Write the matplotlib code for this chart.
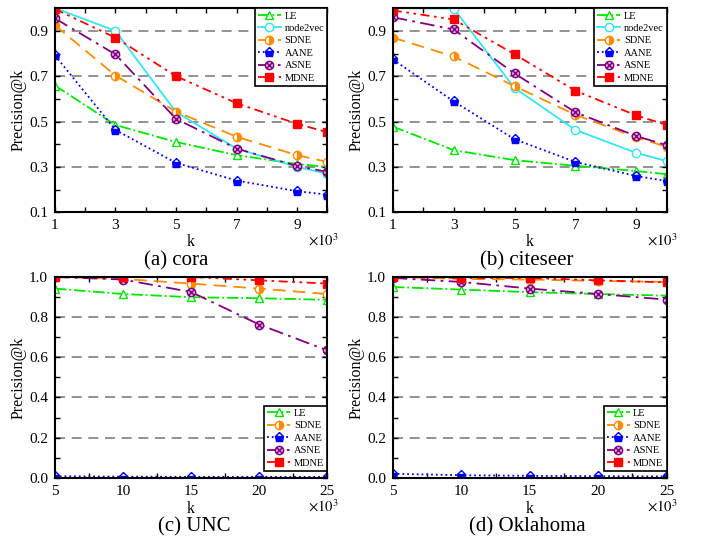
import matplotlib
matplotlib.use("Agg")
import matplotlib.pyplot as plt
from matplotlib.path import Path

plt.rcParams['font.family'] = ['Liberation Serif', 'DejaVu Serif']
plt.rcParams['mathtext.fontset'] = 'stix'

# k values (x 10^3)
k_small = [1, 3, 5, 7, 9, 10]
k_large = [5, 10, 15, 20, 25]

# (a) cora
cora_le = [0.659, 0.485, 0.41, 0.352, 0.313, 0.30]
cora_n2v = [1.0, 0.90, 0.542, 0.381, 0.30, 0.27]
cora_sdne = [0.925, 0.703, 0.544, 0.433, 0.352, 0.322]
cora_aane = [0.792, 0.463, 0.318, 0.24, 0.193, 0.178]
cora_asne = [0.955, 0.796, 0.512, 0.381, 0.304, 0.278]
cora_mdne = [0.996, 0.87, 0.70, 0.581, 0.49, 0.453]

# (b) citeseer
cite_le = [0.478, 0.374, 0.33, 0.305, 0.282, 0.268]
cite_n2v = [1.0, 0.998, 0.648, 0.463, 0.362, 0.326]
cite_sdne = [0.87, 0.787, 0.656, 0.53, 0.43, 0.389]
cite_aane = [0.774, 0.589, 0.422, 0.322, 0.26, 0.238]
cite_asne = [0.96, 0.906, 0.712, 0.541, 0.436, 0.396]
cite_mdne = [0.99, 0.95, 0.797, 0.636, 0.527, 0.485]

# (c) UNC
unc_le = [0.942, 0.915, 0.899, 0.894, 0.886]
unc_sdne = [1.0, 0.99, 0.967, 0.942, 0.915]
unc_aane = [0.008, 0.006, 0.005, 0.005, 0.005]
unc_asne = [1.0, 0.987, 0.925, 0.763, 0.634]
unc_mdne = [1.0, 1.0, 1.0, 0.983, 0.967]

# (d) Oklahoma
okl_le = [0.95, 0.937, 0.924, 0.915, 0.907]
okl_sdne = [1.0, 0.99, 0.987, 0.98, 0.975]
okl_aane = [0.02, 0.013, 0.01, 0.008, 0.007]
okl_asne = [0.995, 0.975, 0.942, 0.915, 0.887]
okl_mdne = [1.0, 0.995, 0.995, 0.983, 0.973]

# circle with a cross inside for ASNE
d = 0.72
otimes = Path.make_compound_path(
    Path.unit_circle(),
    Path([[-d, -d], [d, d]], [Path.MOVETO, Path.LINETO]),
    Path([[-d, d], [d, -d]], [Path.MOVETO, Path.LINETO]),
)

styles = {
    'LE': dict(color='#00e600', ls='-.', marker='^', mfc='white', mec='#00e600', ms=6),
    'node2vec': dict(color='#33e6f0', ls='-', marker='o', mfc='white', mec='#33e6f0', ms=6),
    'SDNE': dict(color='#ff8c00', ls=(0, (7, 4)), marker='o', fillstyle='right',
                 mfc='#ff8c00', mfcalt='white', mec='#ff8c00', ms=6),
    'AANE': dict(color='#0000ff', ls=':', marker='p', fillstyle='bottom',
                 mfc='#0000ff', mfcalt='white', mec='#0000ff', ms=6.5),
    'ASNE': dict(color='#800080', ls=(0, (8, 3, 1.5, 3)), marker=otimes,
                 mfc='#d9a6d9', mec='#800080', ms=6),
    'MDNE': dict(color='#ff0000', ls=(0, (5, 2.5, 1.5, 2.5, 1.5, 2.5)), marker='s',
                 mfc='#ff0000', mec='#ff0000', ms=6),
}


def draw(ax, x, series, legend_loc, legend_anchor, xmajor, xminor, ymajor, yminor,
         ylim, xlim, klab, xmul):
    for name, y in series:
        ax.plot(x, y, lw=1.3, mew=1.0, label=name, **styles[name])
    ax.set_xlim(*xlim)
    ax.set_ylim(*ylim)
    ax.set_xticks(xmajor)
    ax.set_xticks(xminor, minor=True)
    ax.set_yticks(ymajor)
    ax.set_yticks(yminor, minor=True)
    ax.yaxis.grid(True, which='major', color='#808080', ls=(0, (6, 4)), lw=1.2)
    ax.set_axisbelow(True)
    ax.tick_params(which='both', direction='in', top=True, right=True,
                   labelsize=11, length=3.5, width=1, pad=5)
    for s in ax.spines.values():
        s.set_linewidth(1.5)
    ax.set_xlabel('k', fontsize=11.5)
    ax.xaxis.set_label_coords(0.5, klab)
    ax.set_ylabel('Precision@k', fontsize=11.5, labelpad=2)
    ax.text(0.985, xmul, r'$\times10^3$', transform=ax.transAxes,
            ha='center', va='center', fontsize=10.5)
    leg = ax.legend(loc=legend_loc, bbox_to_anchor=legend_anchor, fontsize=7.5,
                    frameon=True, fancybox=False, edgecolor='black', framealpha=1,
                    borderaxespad=0.0, handlelength=2.2, handletextpad=0.35,
                    labelspacing=0.3, borderpad=0.3)
    leg.get_frame().set_linewidth(1.2)


fig = plt.figure(figsize=(7.04, 5.43), dpi=100)
ax_a = fig.add_axes([0.078, 0.609, 0.387, 0.376])
ax_b = fig.add_axes([0.558, 0.609, 0.389, 0.376])
ax_c = fig.add_axes([0.078, 0.12, 0.387, 0.37])
ax_d = fig.add_axes([0.558, 0.12, 0.389, 0.37])

top_kw = dict(ymajor=[0.1, 0.3, 0.5, 0.7, 0.9], yminor=[0.2, 0.4, 0.6, 0.8, 1.0],
              ylim=(0.1, 1.0), xmajor=[1, 3, 5, 7, 9], xminor=[2, 4, 6, 8, 10],
              xlim=(1, 10), legend_loc='upper right', legend_anchor=(1.0, 1.0),
              klab=-0.105, xmul=-0.137)
bot_kw = dict(ymajor=[0.0, 0.2, 0.4, 0.6, 0.8, 1.0],
              yminor=[0.1, 0.3, 0.5, 0.7, 0.9], ylim=(0.0, 1.0),
              xmajor=[5, 10, 15, 20, 25], xminor=[7.5, 12.5, 17.5, 22.5],
              xlim=(5, 25), legend_loc='lower right', legend_anchor=(1.0, 0.035),
              klab=-0.115, xmul=-0.14)

draw(ax_a, k_small, [('LE', cora_le), ('node2vec', cora_n2v), ('SDNE', cora_sdne),
                     ('AANE', cora_aane), ('ASNE', cora_asne), ('MDNE', cora_mdne)],
     **top_kw)
draw(ax_b, k_small, [('LE', cite_le), ('node2vec', cite_n2v), ('SDNE', cite_sdne),
                     ('AANE', cite_aane), ('ASNE', cite_asne), ('MDNE', cite_mdne)],
     **top_kw)
draw(ax_c, k_large, [('LE', unc_le), ('SDNE', unc_sdne), ('AANE', unc_aane),
                     ('ASNE', unc_asne), ('MDNE', unc_mdne)],
     **bot_kw)
draw(ax_d, k_large, [('LE', okl_le), ('SDNE', okl_sdne), ('AANE', okl_aane),
                     ('ASNE', okl_asne), ('MDNE', okl_mdne)],
     **bot_kw)

fig.text(176 / 704, 1 - 261 / 543, '(a) cora', ha='center', va='center', fontsize=15)
fig.text(527 / 704, 1 - 261 / 543, '(b) citeseer', ha='center', va='center', fontsize=15)
fig.text(194 / 704, 1 - 527 / 543, '(c) UNC', ha='center', va='center', fontsize=15)
fig.text(527 / 704, 1 - 527 / 543, '(d) Oklahoma', ha='center', va='center', fontsize=15)

fig.savefig('out.png', dpi=100)
